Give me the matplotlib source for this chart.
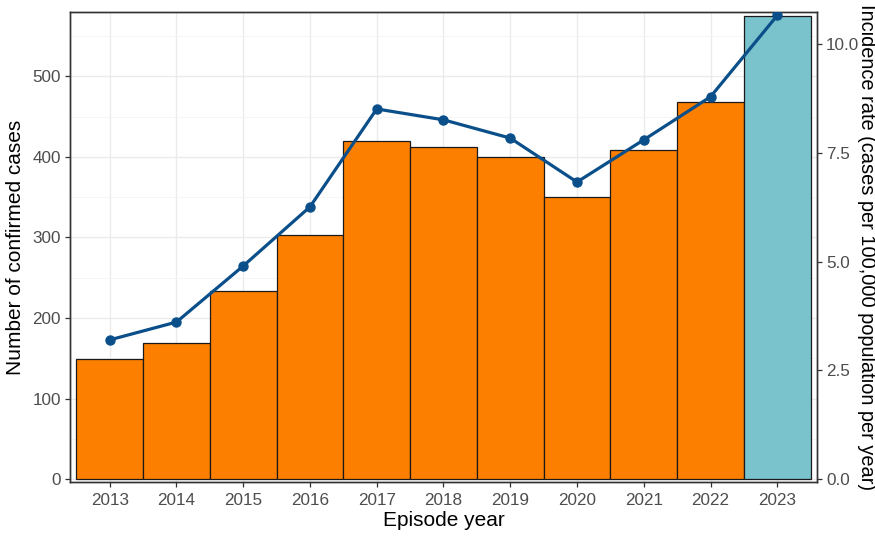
import matplotlib
matplotlib.use("Agg")
import matplotlib.pyplot as plt
from matplotlib.ticker import MultipleLocator, FormatStrFormatter

# data
years = [2013, 2014, 2015, 2016, 2017, 2018, 2019, 2020, 2021, 2022, 2023]
cases = [149, 169, 233, 303, 420, 412, 400, 350, 409, 468, 575]
incidence = [3.20, 3.61, 4.90, 6.26, 8.51, 8.26, 7.84, 6.83, 7.80, 8.79, 10.66]
bar_colors = ["#FC7F00"] * 10 + ["#7AC2CC"]

plt.rcParams["font.family"] = ["Liberation Sans", "DejaVu Sans"]

fig = plt.figure(figsize=(8.75, 5.36), dpi=100)
ax = fig.add_axes([0.080, 0.1007, 0.8537, 0.877])

ax.bar(years, cases, width=1.0, color=bar_colors, edgecolor="#1a1a1a",
       linewidth=0.9, zorder=2)

ax.set_xlim(2012.5 - 0.095, 2023.5 + 0.095)
ax.set_ylim(-3.7, 580)
ax.set_xticks(years)
ax.yaxis.set_major_locator(MultipleLocator(100))
ax.yaxis.set_minor_locator(MultipleLocator(50))
ax.grid(True, which="major", color="#EBEBEB", linewidth=1.0, zorder=0)
ax.grid(True, which="minor", axis="y", color="#F4F4F4", linewidth=0.6, zorder=0)
ax.set_axisbelow(True)

# secondary axis for the incidence line
ax2 = ax.twinx()
ax2.set_ylim(-3.7 / 54.0, 580 / 54.0)
ax2.plot(years, incidence, color="#0B4F8A", linewidth=2.3, marker="o",
         markersize=6.5, zorder=5)
ax2.yaxis.set_major_locator(MultipleLocator(2.5))
ax2.yaxis.set_major_formatter(FormatStrFormatter("%.1f"))

for a in (ax, ax2):
    for s in a.spines.values():
        s.set_color("#333333")
        s.set_linewidth(1.0)
    a.tick_params(axis="both", which="major", length=3.6, width=0.9,
                  color="#333333", labelcolor="#4D4D4D", labelsize=12.3, pad=3)
    a.tick_params(axis="both", which="minor", length=0)
ax.tick_params(axis="x", pad=4.5)

ax.set_xlabel("Episode year", fontsize=15, color="black", labelpad=2)
ax.set_ylabel("Number of confirmed cases", fontsize=15, color="black", labelpad=5)
ax2.set_ylabel("Incidence rate (cases per 100,000 population per year)",
               fontsize=14.4, color="black", rotation=-90, labelpad=12)

fig.savefig("out.png", dpi=100)
